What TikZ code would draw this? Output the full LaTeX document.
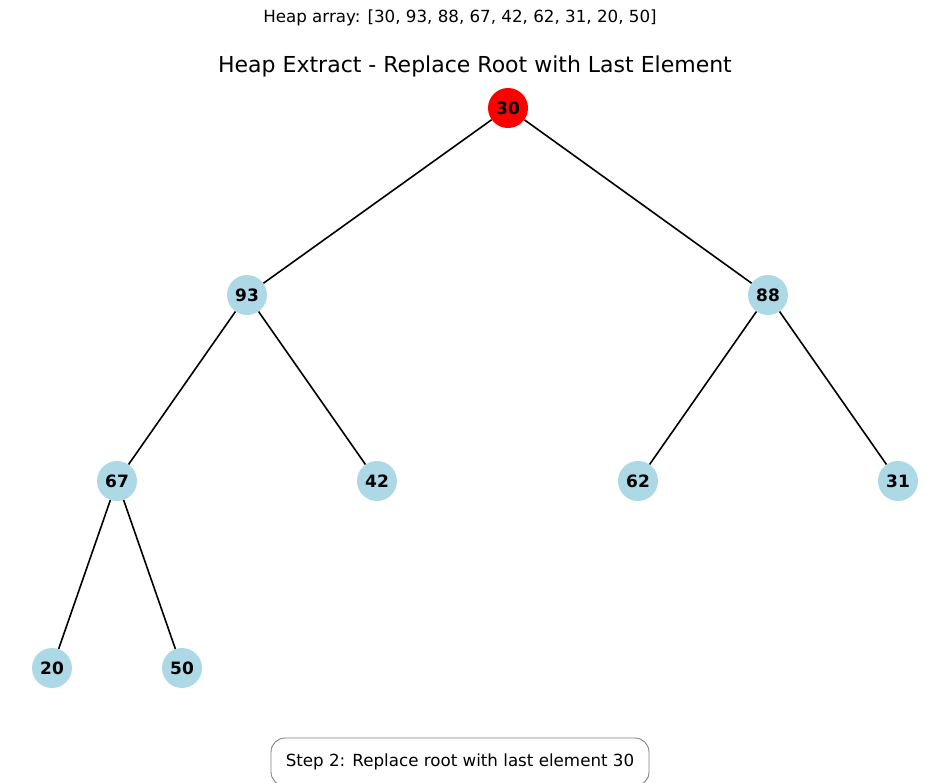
\documentclass[tikz,border=0pt]{standalone}
\usepackage{fontspec}
\setmainfont{DejaVu Sans}
\usepackage{xcolor}
\definecolor{heapblue}{RGB}{173,216,230}

\begin{document}
\begin{tikzpicture}[x=1pt, y=-1pt,
    heapnode/.style={circle, fill=heapblue, minimum size=40pt, inner sep=0pt,
        font=\fontsize{17}{19}\selectfont\bfseries},
    rootnode/.style={heapnode, fill=red},
    heapedge/.style={black, line width=1.6pt}]
    \useasboundingbox (0,0) rectangle (950,782);

    % Titles
    \node (arr) at (460,18) {\fontsize{16.7}{20}\selectfont Heap array: [30, 93, 88, 67, 42, 62, 31, 20, 50]};
    \node (title) at (475,66) {\fontsize{22}{26}\selectfont Heap Extract - Replace Root with Last Element};

    % Heap nodes
    \node[rootnode] (n30) at (508,108) {30};
    \foreach \x/\y/\v in {247/295/93, 768/295/88, 117/481/67, 377/481/42,
                          638/481/62, 898/481/31, 52/668/20, 182/668/50} {
        \node[heapnode] (n\v) at (\x,\y) {\v};
    }

    % Edges
    \foreach \a/\b in {30/93, 30/88, 93/67, 93/42, 88/62, 88/31, 67/20, 67/50} {
        \draw[heapedge] (n\a) -- (n\b);
    }

    % Step box
    \node[draw=gray, rounded corners=14pt, line width=0.9pt, minimum width=378pt,
          minimum height=48pt, fill=white] (step) at (460,762)
        {\fontsize{16.7}{20}\selectfont Step 2: Replace root with last element 30};
\end{tikzpicture}
\end{document}
